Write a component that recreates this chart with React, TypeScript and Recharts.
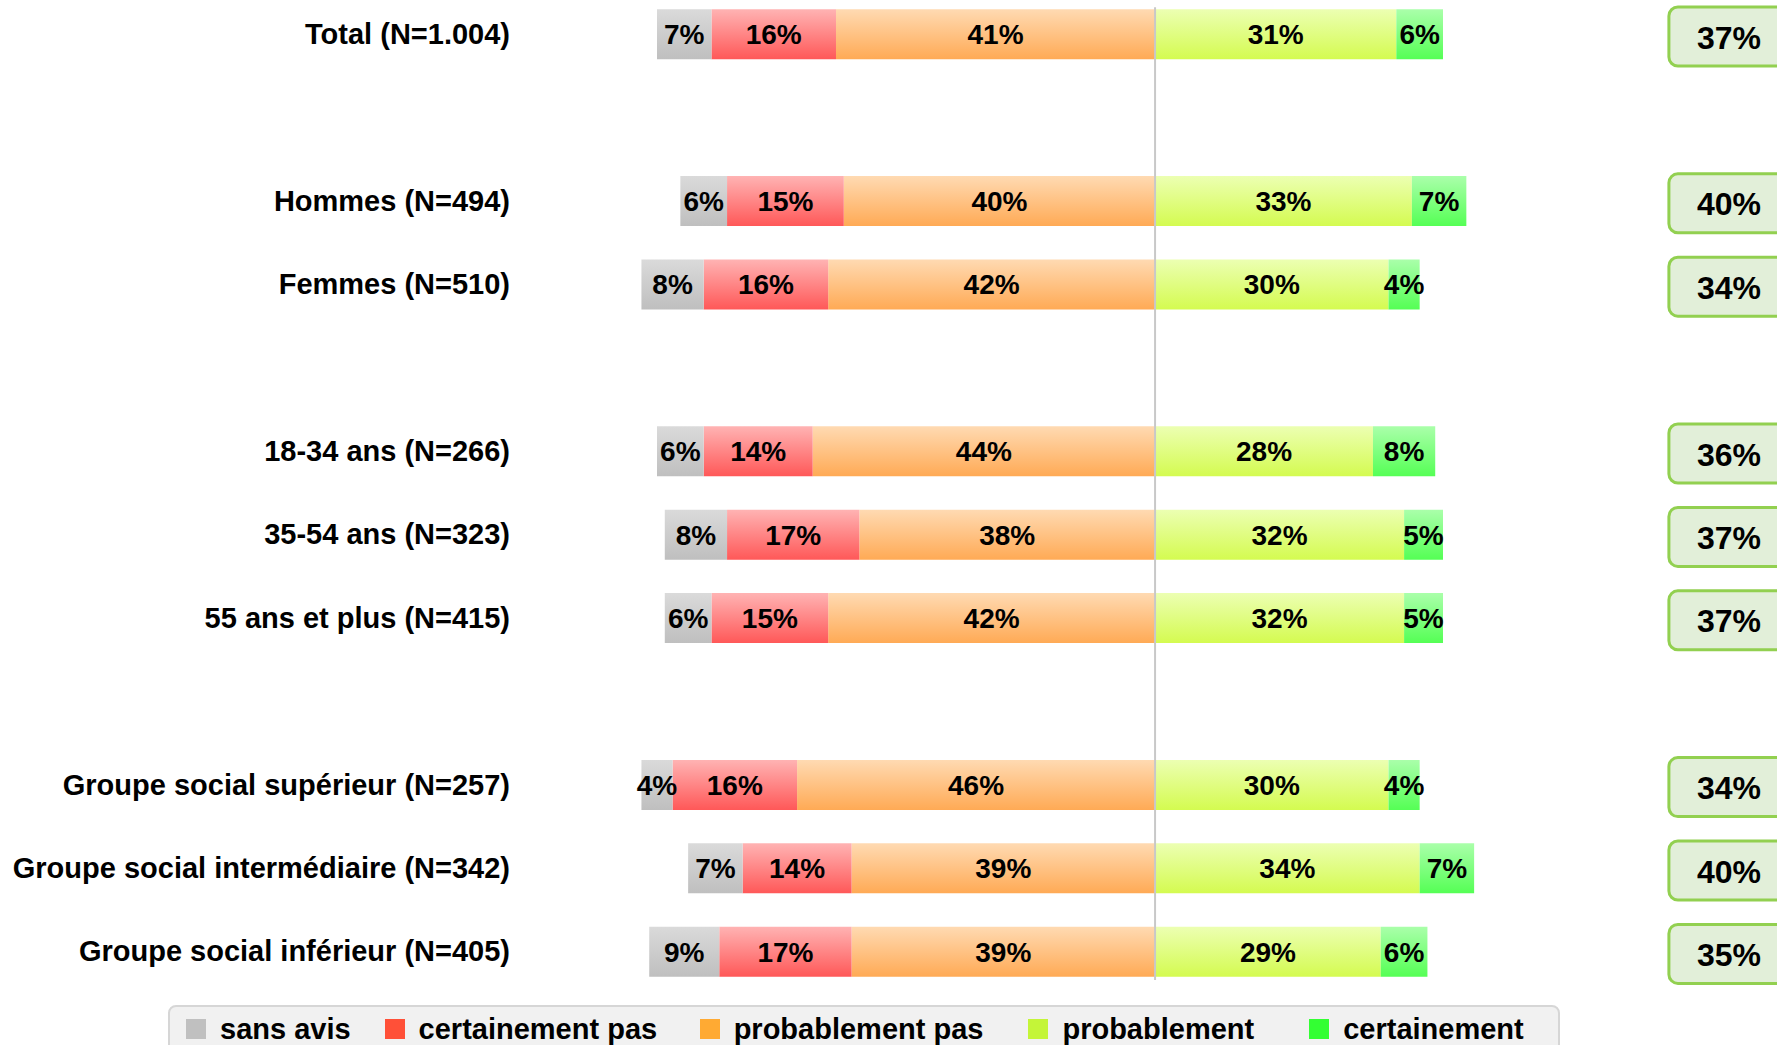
import React from "react";
import { BarChart, Bar, XAxis, YAxis, LabelList, ReferenceLine, Legend } from "recharts";

// ---- data ----
const categories = [
  "Total (N=1.004)",
  " ",
  "Hommes (N=494)",
  "Femmes (N=510)",
  "  ",
  "18-34 ans (N=266)",
  "35-54 ans (N=323)",
  "55 ans et plus (N=415)",
  "   ",
  "Groupe social supérieur (N=257)",
  "Groupe social intermédiaire (N=342)",
  "Groupe social inférieur (N=405)",
];
const sansAvis = [7, null, 6, 8, null, 6, 8, 6, null, 4, 7, 9];
const certainementPas = [16, null, 15, 16, null, 14, 17, 15, null, 16, 14, 17];
const probablementPas = [41, null, 40, 42, null, 44, 38, 42, null, 46, 39, 39];
const probablement = [31, null, 33, 30, null, 28, 32, 32, null, 30, 34, 29];
const certainement = [6, null, 7, 4, null, 8, 5, 5, null, 4, 7, 6];
const totalOui = [37, null, 40, 34, null, 36, 37, 37, null, 34, 40, 35];

const seriesNames = ["sans avis", "certainement pas", "probablement pas", "probablement", "certainement"];

// ---- styles ----
const legendColors = ["#c0c0c0", "#ff5038", "#ffaa33", "#c4f538", "#33ff33"];
const legendGaps = [34, 42.5, 45, 55, 0];
const gradTop = ["#dadada", "#ffb3b3", "#ffdab2", "#ecffb2", "#aaffaa"];
const gradBottom = ["#bfbfbf", "#ff5858", "#ffaa55", "#d4fb50", "#55ff55"];

const neg = (v: number | null) => (v == null ? null : -v);
const data = categories.map((cat, i) => ({
  cat,
  sansAvis: neg(sansAvis[i]),
  certainementPas: neg(certainementPas[i]),
  probablementPas: neg(probablementPas[i]),
  probablement: probablement[i],
  certainement: certainement[i],
}));

const FONT = "'Liberation Sans', Arial, Helvetica, sans-serif";

const fmt = (v: any) => (v == null || v === 0 ? "" : `${Math.abs(Number(v))}%`);

const LeftTick = (props: any) => {
  const { x, y, payload } = props;
  return (
    <text x={x} y={y} textAnchor="end" dominantBaseline="central" fontSize={29} fontWeight="bold" fontFamily={FONT} fill="#000">
      {payload.value}
    </text>
  );
};

const RightTick = (props: any) => {
  const { x, y, payload } = props;
  const idx = categories.indexOf(payload.value);
  const v = idx >= 0 ? totalOui[idx] : null;
  if (v == null) return <g />;
  return (
    <g>
      <rect x={x + 2} y={y - 27} width={130} height={59} rx={9} ry={9} fill="#e2efd9" stroke="#92d050" strokeWidth={3} />
      <text x={x + 62} y={y + 3.5} textAnchor="middle" dominantBaseline="central" fontSize={32} fontWeight="bold" fontFamily={FONT} fill="#000">
        {`${v}%`}
      </text>
    </g>
  );
};

const CenterLine = (props: any) => {
  const { x1, y1, x2, y2 } = props;
  const top = Math.min(y1, y2) + 15;
  const bottom = Math.max(y1, y2) - 13;
  return <line x1={x1} x2={x2} y1={top} y2={bottom} stroke="#c8c8c8" strokeWidth={2} />;
};

const LegendContent = () => (
  <div
    style={{
      width: 1392,
      height: 56,
      boxSizing: "border-box",
      background: "#f1f1f1",
      border: "2px solid #d6d6d6",
      borderRadius: 8,
      display: "flex",
      alignItems: "flex-start",
      paddingLeft: 16,
      paddingTop: 7,
      fontFamily: FONT,
    }}
  >
    {seriesNames.map((n, i) => (
      <div key={n} style={{ display: "flex", alignItems: "center", height: 30, marginRight: legendGaps[i] }}>
        <div style={{ width: 20, height: 20, background: legendColors[i], marginRight: 14 }} />
        <span style={{ fontSize: 29, fontWeight: "bold", color: "#000", lineHeight: "30px" }}>{n}</span>
      </div>
    ))}
  </div>
);

const labelStyle = { fontSize: 28, fontWeight: "bold", fontFamily: FONT, fill: "#000" } as any;

export default function App() {
  // stacking order: negatives stack outward from zero in series order
  const bars = [
    { key: "probablementPas", gi: 2 },
    { key: "certainementPas", gi: 1 },
    { key: "sansAvis", gi: 0 },
    { key: "probablement", gi: 3 },
    { key: "certainement", gi: 4 },
  ];
  return (
    <div style={{ position: "fixed", left: 0, top: 0, width: 1777, height: 1045, overflow: "hidden", background: "#fff" }}>
      <div style={{ position: "absolute", left: 0, top: -20 }}>
        <BarChart
          width={1800}
          height={1100}
          data={data}
          layout="vertical"
          stackOffset="sign"
          barSize={50}
          margin={{ top: 12.3, right: 0, bottom: 86.9, left: 0 }}
        >
          <defs>
            {gradTop.map((c, i) => (
              <linearGradient key={i} id={`g${i}`} x1="0" y1="0" x2="0" y2="1">
                <stop offset="0%" stopColor={c} />
                <stop offset="100%" stopColor={gradBottom[i]} />
              </linearGradient>
            ))}
          </defs>
          <XAxis type="number" domain={[-75, 65]} allowDataOverflow hide />
          <YAxis
            yAxisId="l"
            type="category"
            dataKey="cat"
            width={571.4}
            axisLine={false}
            tickLine={false}
            tickSize={0}
            tickMargin={61.4}
            interval={0}
            tick={LeftTick}
          />
          <YAxis
            yAxisId="r"
            orientation="right"
            type="category"
            dataKey="cat"
            width={139.1}
            axisLine={false}
            tickLine={false}
            tickSize={0}
            tickMargin={6}
            interval={0}
            tick={RightTick}
          />
          {bars.map((b) => (
            <Bar
              key={b.key}
              yAxisId="l"
              dataKey={b.key}
              name={seriesNames[b.gi]}
              stackId="s"
              fill={`url(#g${b.gi})`}
              isAnimationActive={false}
            >
              <LabelList dataKey={b.key} position="center" formatter={fmt} style={labelStyle} />
            </Bar>
          ))}
          <ReferenceLine yAxisId="l" x={0} stroke="#c8c8c8" strokeWidth={2} shape={CenterLine} />
          <Legend
            layout="horizontal"
            verticalAlign="middle"
            align="center"
            content={LegendContent}
            wrapperStyle={{ left: 168, top: 1025, width: 1392, height: 56 }}
          />
        </BarChart>
      </div>
    </div>
  );
}
